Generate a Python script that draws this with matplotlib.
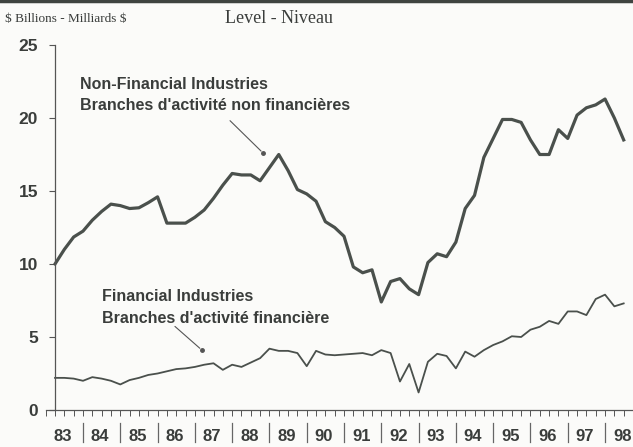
import matplotlib.pyplot as plt
import matplotlib.transforms as mtransforms
from matplotlib.lines import Line2D
import numpy as np

# quarterly levels, 1983Q2 to 1998Q3 ($ billions)
non_financial = [10.0, 11.0, 11.85, 12.25, 13.0, 13.6, 14.1, 14.0, 13.8, 13.85,
                 14.2, 14.6, 12.8, 12.8, 12.8, 13.2, 13.7, 14.5, 15.4, 16.2,
                 16.1, 16.1, 15.7, 16.6, 17.5, 16.4, 15.1, 14.8, 14.3, 12.9,
                 12.5, 11.9, 9.8, 9.4, 9.6, 7.4, 8.8, 9.0, 8.3, 7.9,
                 10.1, 10.7, 10.5, 11.5, 13.8, 14.7, 17.3, 18.6, 19.9, 19.9,
                 19.7, 18.5, 17.5, 17.5, 19.2, 18.6, 20.2, 20.7, 20.9, 21.3,
                 20.0, 18.5]
financial = [2.2, 2.2, 2.15, 2.0, 2.25, 2.15, 2.0, 1.75, 2.05, 2.2,
             2.4, 2.5, 2.65, 2.8, 2.85, 2.95, 3.1, 3.2, 2.75, 3.1,
             2.95, 3.25, 3.55, 4.2, 4.05, 4.05, 3.9, 3.0, 4.05, 3.8,
             3.75, 3.8, 3.85, 3.9, 3.75, 4.1, 3.9, 1.95, 3.15, 1.2,
             3.3, 3.85, 3.7, 2.85, 4.0, 3.65, 4.1, 4.45, 4.7, 5.05,
             5.0, 5.5, 5.7, 6.1, 5.9, 6.75, 6.75, 6.5, 7.6, 7.9,
             7.1, 7.3]
years = list(range(1983, 1999))
year_labels = ['83', '84', '85', '86', '87', '88', '89', '90',
               '91', '92', '93', '94', '95', '96', '97', '98']
y_ticks = [0, 5, 10, 15, 20, 25]

start = 1983.25
x = start + 0.25 * np.arange(len(non_financial))

ink = '#3a3d3b'
line_col = '#4a504c'

fig = plt.figure(figsize=(6.33, 4.47), dpi=100)
fig.patch.set_facecolor('#fbfbf9')
ax = fig.add_axes([0.0722, 0.0828, 0.9278, 0.8165])
ax.set_facecolor('none')

ax.plot(x, non_financial, color=line_col, lw=2.3, solid_joinstyle='round')
ax.plot(x, financial, color=line_col, lw=1.3, solid_joinstyle='round')

ax.set_xlim(1983.0, 1998.745)
ax.set_ylim(0, 25)

for s in ['top', 'right']:
    ax.spines[s].set_visible(False)
ax.spines['left'].set_position(('data', start))
for s in ['left', 'bottom']:
    ax.spines[s].set_color('#555')
    ax.spines[s].set_linewidth(0.9)

ax.set_yticks(y_ticks)
ax.set_yticklabels([str(v) for v in y_ticks], fontsize=12.5, fontweight='bold',
                   color=ink, family='Liberation Sans')
ax.tick_params(axis='y', direction='out', length=4.3, width=0.8, color='#555', pad=8)

ax.set_xticks([y + 0.46 for y in years])
ax.set_xticklabels(year_labels, fontsize=12, fontweight='bold', color=ink,
                   family='Liberation Sans')
ax.tick_params(axis='x', which='major', length=0, pad=14)
ax.set_xticks(np.arange(1983.0, 1998.8, 0.25), minor=True)
ax.tick_params(axis='x', which='minor', direction='out', length=4.3, width=0.7, color='#555')

# year separators under the axis
trans = mtransforms.blended_transform_factory(ax.transData, ax.transAxes)
for y in years[1:]:
    ax.plot([y, y], [-0.036, -0.088], transform=trans, color='#666', lw=0.9, clip_on=False)

# labels and pointers
txt = dict(fontsize=11.5, fontweight='bold', color=ink, family='Liberation Sans', va='center')
ax.text(1983.92, 22.3, 'Non-Financial Industries', **txt)
ax.text(1983.92, 20.85, "Branches d'activité non financières", **txt)
ax.text(1984.5, 7.75, 'Financial Industries', **txt)
ax.text(1984.5, 6.3, "Branches d'activité financière", **txt)

ax.annotate('', xy=(1988.83, 17.6), xytext=(1987.89, 19.95),
            arrowprops=dict(arrowstyle='-', color='#555', lw=0.8))
ax.plot([1988.83], [17.6], 'o', color='#555', ms=2.5)
ax.annotate('', xy=(1987.19, 4.1), xytext=(1986.41, 5.85),
            arrowprops=dict(arrowstyle='-', color='#555', lw=0.8))
ax.plot([1987.19], [4.1], 'o', color='#555', ms=2.5)

fig.text(0.008, 0.958, r'\$ Billions - Milliards \$', fontsize=9.5, family='Liberation Serif',
         color=ink, va='center')
fig.text(0.355, 0.958, 'Level - Niveau', fontsize=13, family='Liberation Serif',
         color=ink, va='center')
fig.add_artist(Line2D([0, 1], [0.997, 0.997], color='#3f4440', lw=2.5))

fig.savefig('out.png', dpi=100, facecolor=fig.get_facecolor())
